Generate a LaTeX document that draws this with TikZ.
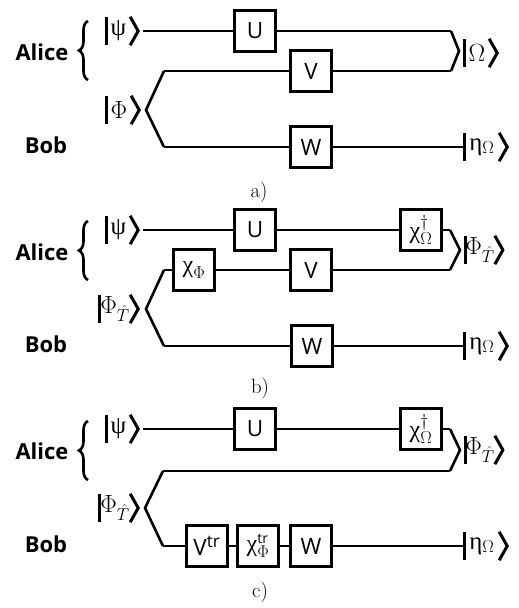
\documentclass[tikz,border=0pt]{standalone}
\usepackage{fontspec}
\setsansfont{Open Sans}
\newfontfamily\greekfont{Liberation Serif}
\DeclareMathSizes{24.88}{24.88}{17.28}{12}
\DeclareMathSizes{22.5}{22.5}{17.28}{12}
\usetikzlibrary{decorations.pathreplacing}
\tikzset{
  gate/.style={draw, line width=3.4pt, fill=white, minimum size=40.5pt, inner sep=0pt, font=\sffamily\fontsize{22.5}{24}\selectfont},
  wire/.style={line width=1.8pt},
  fork/.style={line width=2.6pt, line join=miter},
  party/.style={font=\sffamily\fontsize{22}{24}\selectfont\bfseries},
  caption/.style={font=\fontsize{20.74}{22}\selectfont},
  ketlabel/.style={inner sep=0pt, minimum height=28pt, font=\fontsize{24.88}{26}\selectfont},
  ketline/.style={line width=3pt},
  alicebrace/.style={line width=2.6pt, decorate, decoration={brace, amplitude=9pt}}
}
\newcommand{\ketnode}[4]{
  \node[ketlabel, minimum width=#3pt] (#1) at (#2) {#4};
  \draw[ketline] (#1.north west) -- (#1.south west);
  \draw[ketline] (#1.north east) -- ([xshift=8pt]#1.east) -- (#1.south east);
}
\newcommand{\gk}[1]{\mbox{\greekfont #1}}
\newcommand{\gkbig}[1]{\mbox{\greekfont\fontsize{24}{26}\selectfont #1}}
\newcommand{\PhiT}{$\Phi_{\hat{T}}$}
\newcommand{\chiO}{$\gkbig{χ}^{\dagger}_{\Omega}$}
\begin{document}
\begin{tikzpicture}[x=1pt,y=-1pt]
\useasboundingbox (0,0) rectangle (519,608);
% a)
\node[party] (aliceA) at (42,52) {Alice};
\node[party] (bobA) at (46,145) {Bob};
\draw[alicebrace] (88,80) -- (88,21);
\ketnode{psiA}{118.5,31}{23}{\gk{ψ}}
\ketnode{phiA}{119,110}{24}{$\Phi$}
\ketnode{omegaA}{477,53}{24}{$\Omega$}
\ketnode{etaA}{482,147}{34}{\gk{η}$_{\Omega}$}
\node[gate] (UA) at (255,31) {U};
\node[gate] (VA) at (311,71) {V};
\node[gate] (WA) at (311,147) {W};
\coordinate (inA) at (143,31);
\coordinate (tipA) at (146,110);
\coordinate (upA) at (164,71);
\coordinate (downA) at (164,147);
\coordinate (topA) at (451,31);
\coordinate (midA) at (451,71);
\coordinate (joinA) at (459,51);
\draw[wire] (inA) -- (UA) -- (topA);
\draw[wire] (upA) -- (VA) -- (midA);
\draw[wire] (downA) -- (WA) -- (etaA.west);
\draw[fork] (upA) -- (tipA) -- (downA);
\draw[fork] (topA) -- (joinA) -- (midA);
\node[caption] (capA) at (259,192) {a)};
% b)
\node[party] (aliceB) at (42,252) {Alice};
\node[party] (bobB) at (46,344) {Bob};
\draw[alicebrace] (88,280) -- (88,221);
\ketnode{psiB}{118.5,230}{23}{\gk{ψ}}
\ketnode{phiB}{115,309}{30}{\PhiT}
\ketnode{phiOutB}{480,250}{29}{\PhiT}
\ketnode{etaB}{482,346}{34}{\gk{η}$_{\Omega}$}
\node[gate] (UB) at (255,230) {U};
\node[gate] (VB) at (311,270) {V};
\node[gate] (WB) at (312,346) {W};
\node[gate] (chiB) at (194,270) {$\gkbig{χ}_{\Phi}$};
\node[gate] (chiOB) at (421,230) {\chiO};
\coordinate (inB) at (143,230);
\coordinate (tipB) at (146,309);
\coordinate (upB) at (164,270);
\coordinate (downB) at (164,346);
\coordinate (topB) at (450,230);
\coordinate (midB) at (450,270);
\coordinate (joinB) at (460,250);
\draw[wire] (inB) -- (UB) -- (chiOB) -- (topB);
\draw[wire] (upB) -- (chiB) -- (VB) -- (midB);
\draw[wire] (downB) -- (WB) -- (etaB.west);
\draw[fork] (upB) -- (tipB) -- (downB);
\draw[fork] (topB) -- (joinB) -- (midB);
\node[caption] (capB) at (260,388) {b)};
% c)
\node[party] (aliceC) at (42,451) {Alice};
\node[party] (bobC) at (46,544) {Bob};
\draw[alicebrace] (88,480) -- (88,421);
\ketnode{psiC}{118.5,429}{23}{\gk{ψ}}
\ketnode{phiC}{115,508}{30}{\PhiT}
\ketnode{phiOutC}{480,450}{29}{\PhiT}
\ketnode{etaC}{482,546}{34}{\gk{η}$_{\Omega}$}
\node[gate] (UC) at (255,429) {U};
\node[gate] (VC) at (207,546) {V\textsuperscript{tr}};
\node[gate] (chiC) at (258,546) {$\gkbig{χ}^{\mbox{\sffamily\fontsize{14}{16}\selectfont tr}}_{\Phi}$};
\node[gate] (WC) at (311,546) {W};
\node[gate] (chiOC) at (421,429) {\chiO};
\coordinate (inC) at (143,429);
\coordinate (tipC) at (145,508);
\coordinate (upC) at (163,471);
\coordinate (downC) at (163,546);
\coordinate (topC) at (450,429);
\coordinate (midC) at (450,471);
\coordinate (joinC) at (460,450);
\draw[wire] (inC) -- (UC) -- (chiOC) -- (topC);
\draw[wire] (upC) -- (midC);
\draw[wire] (downC) -- (VC) -- (chiC) -- (WC) -- (etaC.west);
\draw[fork] (upC) -- (tipC) -- (downC);
\draw[fork] (topC) -- (joinC) -- (midC);
\node[caption] (capC) at (260,592) {c)};
\end{tikzpicture}
\end{document}
